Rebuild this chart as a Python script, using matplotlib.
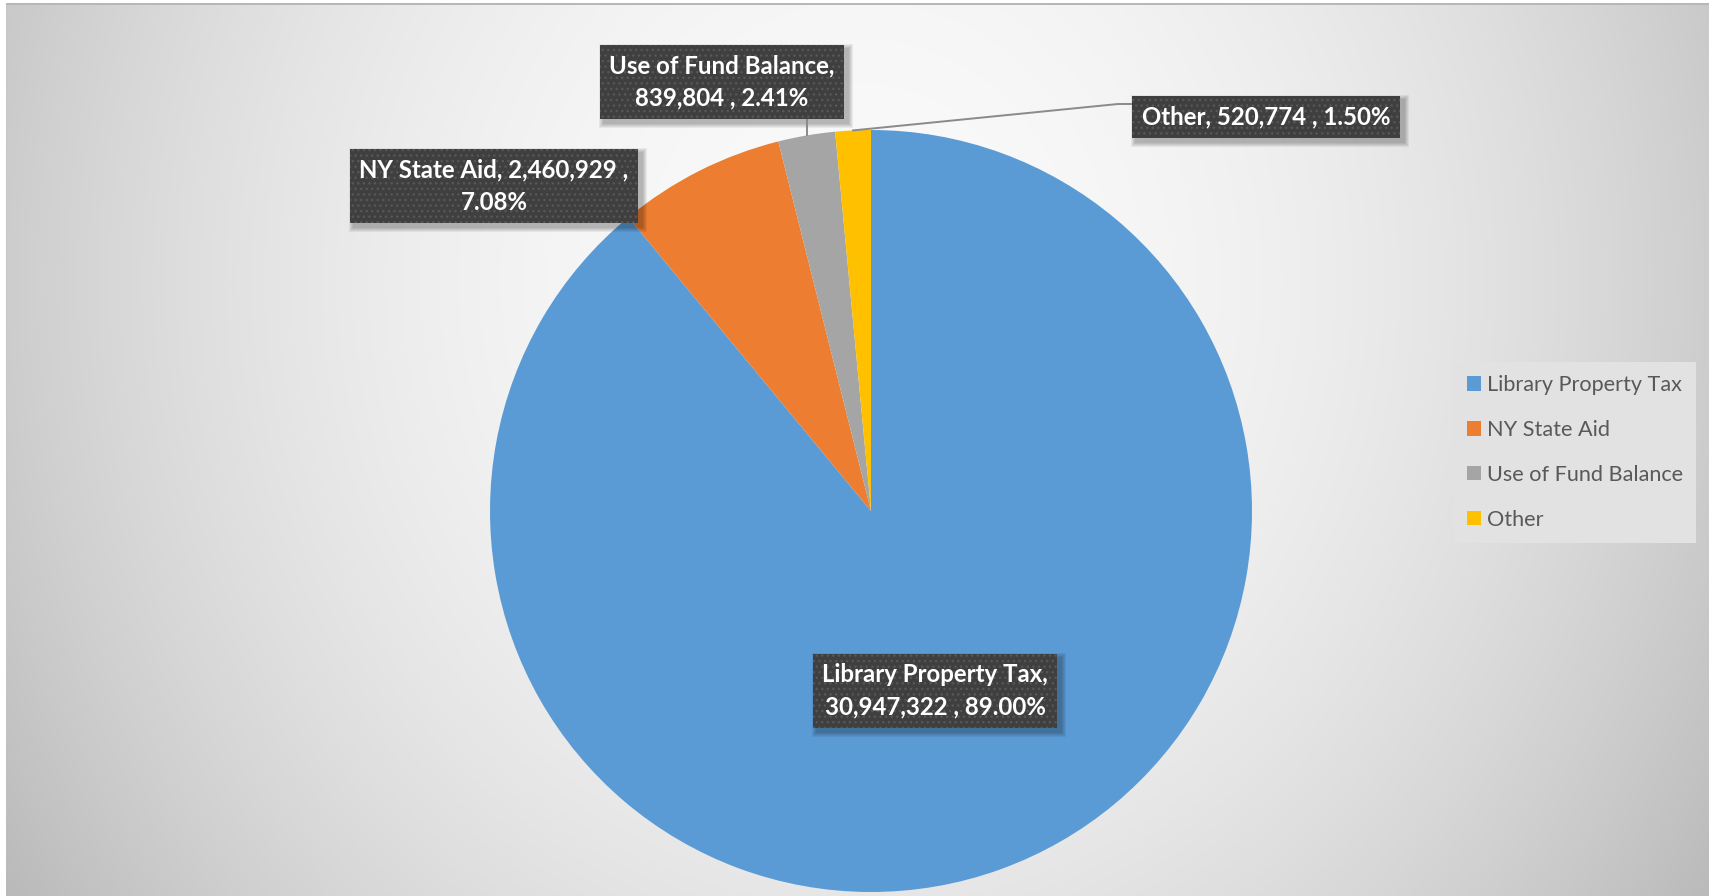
import numpy as np
import matplotlib
matplotlib.use("Agg")
import matplotlib.pyplot as plt
from matplotlib.patches import Rectangle, Patch
from matplotlib.lines import Line2D
from matplotlib.transforms import IdentityTransform

# ---- data ----
categories = ["Library Property Tax", "NY State Aid", "Use of Fund Balance", "Other"]
amounts = [30947322, 2460929, 839804, 520774]
percents = [89.00, 7.08, 2.41, 1.50]
colors = ["#5B9BD5", "#ED7D31", "#A5A5A5", "#FFC000"]

# ---- canvas ----
W, H, DPI = 1709, 896, 100
plt.rcParams["font.family"] = ["Lato", "DejaVu Sans"]
fig = plt.figure(figsize=(W / DPI, H / DPI), dpi=DPI)


def fx(x):
    return x / W


def fy(y):
    return 1 - y / H


# radial grey gradient chart-area fill
bg = fig.add_axes([0, 0, 1, 1], zorder=-10)
bg.set_axis_off()
yy, xx = np.mgrid[0:H, 0:W]
d2 = ((xx - 860) / 1000.0) ** 2 + ((yy - 280) / 1100.0) ** 2
v = np.clip(250 - 62 * d2, 185, 252) / 255.0
img = np.dstack([v, v, v])
img[:, :6] = 1.0
img[:3, :] = 1.0
img[3:5, 6:] = 0.72
img[3:, 6] = np.minimum(img[3:, 6], 0.78)
bg.imshow(img, extent=[0, W, H, 0], aspect="auto", interpolation="nearest")
bg.set_xlim(0, W)
bg.set_ylim(H, 0)

# ---- pie ----
cx, cy, R = 871, 511, 381
ax = fig.add_axes([fx(cx - R), fy(cy + R), 2 * R / W, 2 * R / H])
ax.pie(percents, colors=colors, startangle=90, counterclock=False, radius=1,
       wedgeprops=dict(linewidth=0))
ax.set_xlim(-1, 1)
ax.set_ylim(-1, 1)
ax.set_axis_off()

# wedge mid-angles (degrees) from the data
total = sum(percents)
mid_angles = []
acc = 0.0
for p in percents:
    mid_angles.append(90 - 360 * (acc + p / 2) / total)
    acc += p


def rim_point(i):
    a = np.deg2rad(mid_angles[i])
    return cx + R * np.cos(a), cy - R * np.sin(a)


# ---- data labels ----
label_centers = [(935, 691), (494, 186), (722, 82), (1266, 117)]
label_breaks = ["name", "amount", "name", "none"]

texts = []
for name, amt, pct, (lx, ly), brk in zip(categories, amounts, percents,
                                          label_centers, label_breaks):
    a = f"{amt:,}"
    p = f"{pct:.2f}%"
    if brk == "name":
        s = f"{name},\n{a} , {p}"
    elif brk == "amount":
        s = f"{name}, {a} ,\n{p}"
    else:
        s = f"{name}, {a} , {p}"
    t = fig.text(fx(lx), fy(ly), s, ha="center", va="center", color="white",
                 fontsize=17.3, fontweight="bold", linespacing=1.5, zorder=5,
                 bbox=dict(boxstyle="square,pad=0.4", facecolor="#3f3f3f",
                           edgecolor="#575757", linewidth=0, hatch="..."))
    texts.append(t)

# leader lines
lc = "#8a8a8a"
gx, gy = rim_point(2)
fig.add_artist(Line2D([fx(gx), fx(gx)], [fy(gy), fy(117)], color=lc, lw=1.4, zorder=4))
ox, oy = rim_point(3)
fig.add_artist(Line2D([fx(ox), fx(1118), fx(1131)], [fy(oy), fy(104), fy(104)],
                      color=lc, lw=1.4, zorder=4))

# soft drop shadows behind the label boxes
fig.canvas.draw()
renderer = fig.canvas.get_renderer()
for t in texts:
    bb = t.get_bbox_patch().get_window_extent(renderer)
    for k in range(5, 0, -1):
        fig.add_artist(Rectangle((bb.x0 + 4 - k, bb.y0 - 4 - k),
                                 bb.width + 2 * k, bb.height + 2 * k,
                                 transform=IdentityTransform(),
                                 facecolor="black", edgecolor="none",
                                 alpha=0.06, zorder=3))

# ---- legend ----
handles = [Patch(facecolor=c, edgecolor="none") for c in colors]
leg = fig.legend(handles, categories, loc="upper left",
                 bbox_to_anchor=(fx(1454), fy(362)), borderaxespad=0,
                 fontsize=15.6, frameon=True, fancybox=False,
                 handlelength=0.65, handleheight=0.65, handletextpad=0.28,
                 labelspacing=1.15, borderpad=0.6, labelcolor="#595959")
leg.get_frame().set_facecolor("#e2e2e2")
leg.get_frame().set_edgecolor("none")
leg.get_frame().set_alpha(1)

fig.savefig("out.png", dpi=DPI)
